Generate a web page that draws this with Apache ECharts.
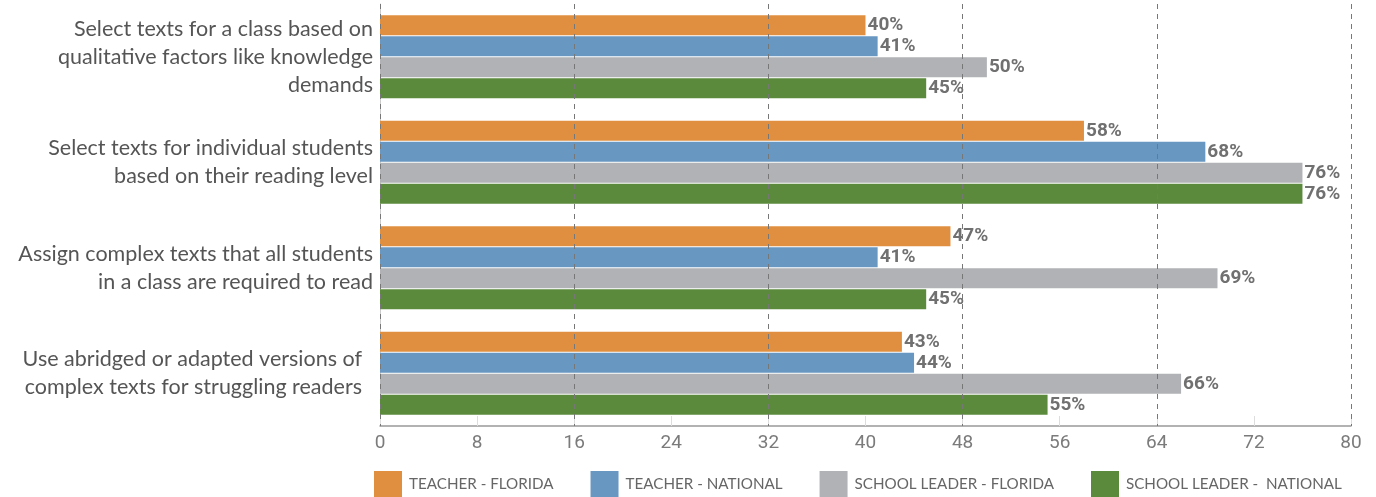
<!DOCTYPE html>
<html><head><meta charset="utf-8">
<script src="https://cdn.jsdelivr.net/npm/echarts@6/dist/echarts.min.js"></script>
<style>html,body{margin:0;padding:0;background:#fff}#c{width:1376px;height:497px}</style>
</head><body><div id="c"></div>
<script>
const categories = [
  "Select texts for a class based on\nqualitative factors like knowledge\ndemands",
  "Select texts for individual students\nbased on their reading level",
  "Assign complex texts that all students\nin a class are required to read",
  "Use abridged or adapted versions of  \ncomplex texts for struggling readers  "
];
const seriesNames = ["TEACHER - FLORIDA", "TEACHER - NATIONAL", "SCHOOL LEADER - FLORIDA", "SCHOOL LEADER -  NATIONAL"];
const teacherFlorida = [40, 58, 47, 43];
const teacherNational = [41, 68, 41, 44];
const leaderFlorida = [50, 76, 69, 66];
const leaderNational = [45, 76, 45, 55];
const colors = ["#e08f41", "#6897c2", "#b1b2b5", "#5b8a3c"];
const xMin = 0, xMax = 80, xStep = 8, gridStep = 16;

const values = [teacherFlorida, teacherNational, leaderFlorida, leaderNational];
const chart = echarts.init(document.getElementById('c'));
chart.setOption({
  animation: false,
  grid: { left: 380, right: 25, top: 4, bottom: 71, containLabel: false },
  legend: {
    left: 374, top: 471, width: 1000, padding: 0, itemWidth: 28, itemHeight: 26, itemGap: 37,
    icon: 'rect',
    textStyle: { fontFamily: 'Lato', fontSize: 15.2, color: '#666', padding: [0, 0, 0, 2] },
    data: seriesNames
  },
  xAxis: [{
    type: 'value', min: xMin, max: xMax, interval: xStep,
    axisLine: { show: true, lineStyle: { color: '#999', width: 1.5 } },
    axisTick: { show: true, inside: true, length: 10, lineStyle: { color: '#ddd' } },
    axisLabel: { fontFamily: 'Roboto', fontSize: 19, color: '#7b7b7b', margin: 8 },
    splitLine: { show: false }
  }, {
    type: 'value', min: xMin, max: xMax, interval: gridStep, position: 'bottom', z: 5,
    axisLine: { show: false }, axisTick: { show: false }, axisLabel: { show: false },
    splitLine: { show: true, lineStyle: { color: '#777', type: [5, 5], width: 1 } }
  }],
  yAxis: {
    type: 'category', data: categories, inverse: true,
    axisLine: { show: true, lineStyle: { color: '#ccc' } },
    axisTick: { show: false },
    axisLabel: { fontFamily: 'Lato', fontSize: 21.5, color: '#555', lineHeight: 28, margin: 7, align: 'right' }
  },
  series: seriesNames.map((n, i) => ({
    name: n, type: 'bar', data: values[i], barWidth: 20, barGap: '5%',
    itemStyle: { color: colors[i] },
    label: { show: true, position: 'right', distance: 2, formatter: '{c}%',
      fontFamily: 'Roboto', fontSize: 19, fontWeight: 'bold', color: '#707070' }
  }))
});
</script></body></html>
